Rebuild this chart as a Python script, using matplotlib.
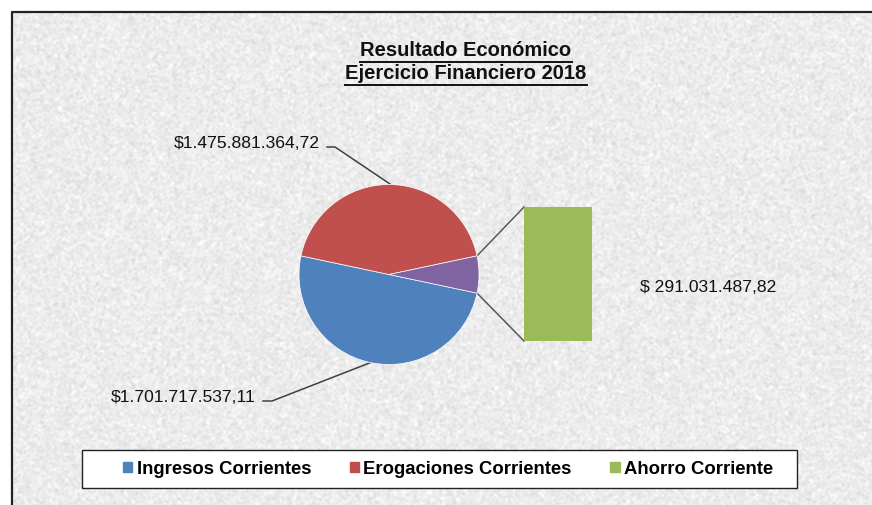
import numpy as np
import matplotlib
matplotlib.use("Agg")
import matplotlib.pyplot as plt
from matplotlib.patches import Rectangle

# ---- data ----
categories = ["Ingresos Corrientes", "Erogaciones Corrientes", "Ahorro Corriente"]
pie_values = [1701717537.11, 1475881364.72, 225836172.39]   # blue, red, purple (other) slice
bar_value = 291031487.82
labels = ["$1.701.717.537,11", "$1.475.881.364,72", "$ 291.031.487,82"]
title_lines = ["Resultado Económico", "Ejercicio Financiero 2018"]
colors = ["#4F81BD", "#C0504D", "#8064A2", "#9BBB59"]

W, H = 872, 506
plt.rcParams['font.family'] = ['Liberation Sans', 'DejaVu Sans']
fig = plt.figure(figsize=(W / 100, H / 100), dpi=100)
fig.patch.set_facecolor("white")
ax = fig.add_axes([0, 0, 1, 1])
ax.set_xlim(0, W)
ax.set_ylim(0, H)
ax.axis("off")

def Y(y):
    return H - y

# textured background
rng = np.random.default_rng(3)
n = rng.normal(0, 1, (H, W))
k = np.ones(3) / 3
n = np.apply_along_axis(lambda r: np.convolve(r, k, mode="same"), 1, n)
n = np.apply_along_axis(lambda c: np.convolve(c, k, mode="same"), 0, n)
tex = np.clip(0.925 + 0.07 * n, 0.72, 1.0)
ax.imshow(tex, cmap="gray", vmin=0, vmax=1, extent=(12, W, 0, Y(13)),
          aspect="auto", zorder=0, interpolation="bilinear")
ax.plot([12, 12, W], [0, Y(13), Y(13)], color="#222222", lw=1.6, zorder=1,
        solid_capstyle="butt")

# pie
cx, cy, r = 389, Y(275.5), 90
tot = sum(pie_values)
purple_ang = pie_values[2] / tot * 360
wedges, _ = ax.pie(pie_values, colors=colors[:3], startangle=-purple_ang / 2,
                   counterclock=False, center=(cx, cy), radius=r, frame=True,
                   wedgeprops=dict(edgecolor="white", linewidth=0.5))
for w in wedges:
    w.set_zorder(3)
ax.set_xlim(0, W)
ax.set_ylim(0, H)
ax.set_aspect("equal")
ax.axis("off")

# bar of "other" slice
bx0, bx1, by0, by1 = 524, 592, 208, 342
bax = fig.add_axes([bx0 / W, Y(by1) / H, (bx1 - bx0) / W, (by1 - by0) / H])
bax.bar([0], [bar_value], width=1.0, color=colors[3])
bax.set_xlim(-0.5, 0.5)
bax.set_ylim(0, bar_value)
bax.axis("off")

# connector lines
a = np.deg2rad(purple_ang / 2)
p_top = (cx + r * np.cos(a), cy + r * np.sin(a))
p_bot = (cx + r * np.cos(a), cy - r * np.sin(a))
ax.plot([p_top[0], bx0], [p_top[1], Y(by0)], color="#595959", lw=1.1, zorder=2)
ax.plot([p_bot[0], bx0], [p_bot[1], Y(by1)], color="#595959", lw=1.1, zorder=2)

# data labels with leader lines
fs = 12.6
ax.text(320, Y(144), labels[1], ha="right", va="center", fontsize=fs, color="#111111", zorder=5)
ax.plot([327, 335, 390], [Y(148), Y(148), Y(185)], color="#404040", lw=1.1, zorder=2)
ax.text(256, Y(397), labels[0], ha="right", va="center", fontsize=fs, color="#111111", zorder=5)
ax.plot([263, 272, 372], [Y(402), Y(402), Y(363)], color="#404040", lw=1.1, zorder=2)
ax.text(640, Y(287), labels[2], ha="left", va="center", fontsize=fs, color="#111111", zorder=5)

# title with underline
fig.canvas.draw()
rend = fig.canvas.get_renderer()
for i, (line, yy) in enumerate(zip(title_lines, [50, 73])):
    t = ax.text(466, Y(yy), line, ha="center", va="center", fontsize=14.5,
                fontweight="bold", color="#111111", zorder=5)
    bb = t.get_window_extent(renderer=rend)
    uy = Y(yy + 13)
    ax.plot([bb.x0, bb.x1], [uy, uy], color="#111111", lw=1.4, zorder=5)

# legend box
ax.add_patch(Rectangle((82, Y(489)), 797 - 82, 489 - 451, facecolor="white",
                       edgecolor="#222222", lw=1.0, zorder=6))
handles = [Rectangle((0, 0), 1, 1, color=c) for c in (colors[0], colors[1], colors[3])]
leg = ax.legend(handles, categories, loc="center", bbox_to_anchor=(448 / W, Y(470) / H),
                bbox_transform=fig.transFigure, ncol=3, frameon=False,
                prop=dict(size=13.3, weight="bold"), handlelength=0.5, handleheight=0.5,
                handletextpad=0.22, columnspacing=2.1, borderpad=0.0,
                borderaxespad=0)
leg.set_zorder(7)

fig.savefig("out.png", dpi=100)
